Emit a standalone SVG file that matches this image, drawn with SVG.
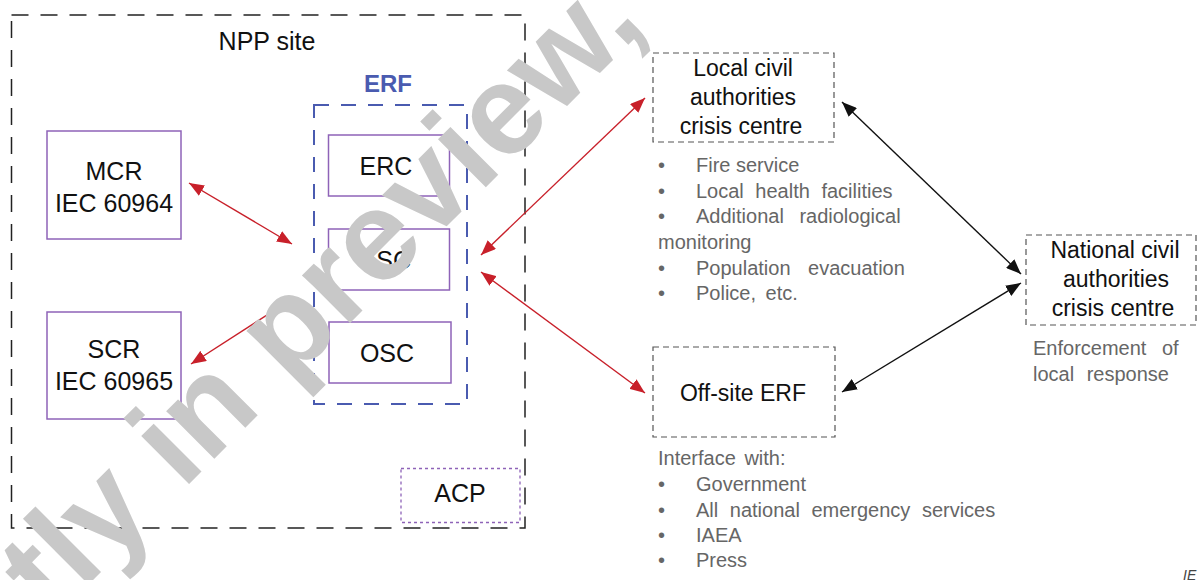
<svg xmlns="http://www.w3.org/2000/svg" width="1198" height="580" viewBox="0 0 1198 580">
<style>
text{font-family:"Liberation Sans",Arial,sans-serif}
.t{font-size:25px;fill:#111;text-anchor:middle}
.s{font-size:23px;fill:#111;text-anchor:middle}
.g{font-size:20px;fill:#666}
.box{fill:#fff;stroke:#8e63b8;stroke-width:1.5}
.dsh{fill:none;stroke:#555;stroke-width:1.2;stroke-dasharray:6 4}
.red{stroke:#c8202a;stroke-width:1.4;fill:none;marker-start:url(#ar);marker-end:url(#ar)}
.blk{stroke:#111;stroke-width:1.4;fill:none;marker-start:url(#ab);marker-end:url(#ab)}
.wm{font-size:128px;font-weight:bold;fill:#c8c8c8}
</style>
<defs>
<marker id="ar" markerUnits="userSpaceOnUse" markerWidth="16" markerHeight="12" refX="15" refY="6" orient="auto-start-reverse"><path d="M0,0 L15,6 L0,12 z" fill="#c8202a"/></marker>
<marker id="ab" markerUnits="userSpaceOnUse" markerWidth="16" markerHeight="12" refX="15" refY="6" orient="auto-start-reverse"><path d="M0,0 L15,6 L0,12 z" fill="#111"/></marker>
</defs>
<rect width="1198" height="580" fill="#fff"/>

<g id="npp-site">
<rect x="11.5" y="15" width="513.5" height="513" fill="none" stroke="#222" stroke-width="1.5" stroke-dasharray="17 12"/>
<text class="t" x="267" y="50">NPP site</text>
</g>

<g id="erf">
<rect x="314" y="105" width="153" height="299" fill="none" stroke="#4a5bb0" stroke-width="2" stroke-dasharray="15 12"/>
<text x="388" y="92" style="font-size:24px;font-weight:bold;fill:#4a5bb0;text-anchor:middle">ERF</text>
</g>

<g id="mcr">
<rect class="box" x="47" y="131" width="134" height="108"/>
<text class="t" x="114" y="180">MCR</text>
<text class="t" x="114" y="212">IEC 60964</text>
</g>

<g id="scr">
<rect class="box" x="47" y="312" width="134" height="107"/>
<text class="t" x="114" y="358">SCR</text>
<text class="t" x="114" y="390">IEC 60965</text>
</g>

<g id="erc">
<rect class="box" x="328.5" y="135" width="121" height="61"/>
<text class="t" x="386" y="175">ERC</text>
</g>

<g id="tsc">
<rect class="box" x="328.5" y="229" width="121" height="61"/>
<text class="t" x="386" y="269">TSC</text>
</g>

<g id="osc">
<rect class="box" x="329" y="322" width="122" height="61"/>
<text class="t" x="387" y="362">OSC</text>
</g>

<g id="acp">
<rect x="401" y="468.5" width="119" height="54" fill="none" stroke="#8e63b8" stroke-width="1.3" stroke-dasharray="3 3"/>
<text class="t" x="460" y="502">ACP</text>
</g>

<g id="local-civil">
<rect class="dsh" x="653" y="53" width="181" height="89"/>
<text class="s" x="743" y="76">Local civil</text>
<text class="s" x="743" y="105">authorities</text>
<text class="s" x="741" y="134">crisis centre</text>
<text class="g" x="658" y="172">•</text><text class="g" x="696" y="172">Fire service</text>
<text class="g" x="658" y="198">•</text><text class="g" x="696" y="198" word-spacing="6">Local health facilities</text>
<text class="g" x="658" y="223">•</text><text class="g" x="696" y="223" word-spacing="10">Additional radiological</text>
<text class="g" x="658" y="249">monitoring</text>
<text class="g" x="658" y="275">•</text><text class="g" x="696" y="275" word-spacing="12">Population evacuation</text>
<text class="g" x="658" y="300">•</text><text class="g" x="696" y="300" word-spacing="4">Police, etc.</text>
</g>

<g id="offsite-erf">
<rect class="dsh" x="653" y="347" width="182" height="90"/>
<text class="s" x="743" y="401">Off-site ERF</text>
<text class="g" x="658" y="465" word-spacing="3">Interface with:</text>
<text class="g" x="658" y="491">•</text><text class="g" x="696" y="491">Government</text>
<text class="g" x="658" y="517">•</text><text class="g" x="696" y="517" word-spacing="6">All national emergency services</text>
<text class="g" x="658" y="542">•</text><text class="g" x="696" y="542">IAEA</text>
<text class="g" x="658" y="567">•</text><text class="g" x="696" y="567">Press</text>
</g>

<g id="national-civil">
<rect class="dsh" x="1026" y="235" width="170" height="90"/>
<text class="s" x="1115" y="258">National civil</text>
<text class="s" x="1116" y="287">authorities</text>
<text class="s" x="1113" y="316">crisis centre</text>
<text class="g" x="1033" y="355" word-spacing="10">Enforcement of</text>
<text class="g" x="1033" y="381" word-spacing="7">local response</text>
</g>

<g id="connectors">
<line class="red" x1="189" y1="183" x2="292" y2="244"/>
<line class="red" x1="191" y1="364" x2="295" y2="297"/>
<line class="red" x1="481" y1="255" x2="645" y2="98"/>
<line class="red" x1="481" y1="272" x2="645" y2="393"/>
<line class="blk" x1="842" y1="102" x2="1021" y2="274"/>
<line class="blk" x1="1021" y1="283" x2="842" y2="392"/>
</g>

<text x="1183" y="580" style="font-size:14px;font-style:italic;fill:#444">IE</text>

<text class="wm" transform="translate(52,621) rotate(-45)">tly in preview,</text>
</svg>
